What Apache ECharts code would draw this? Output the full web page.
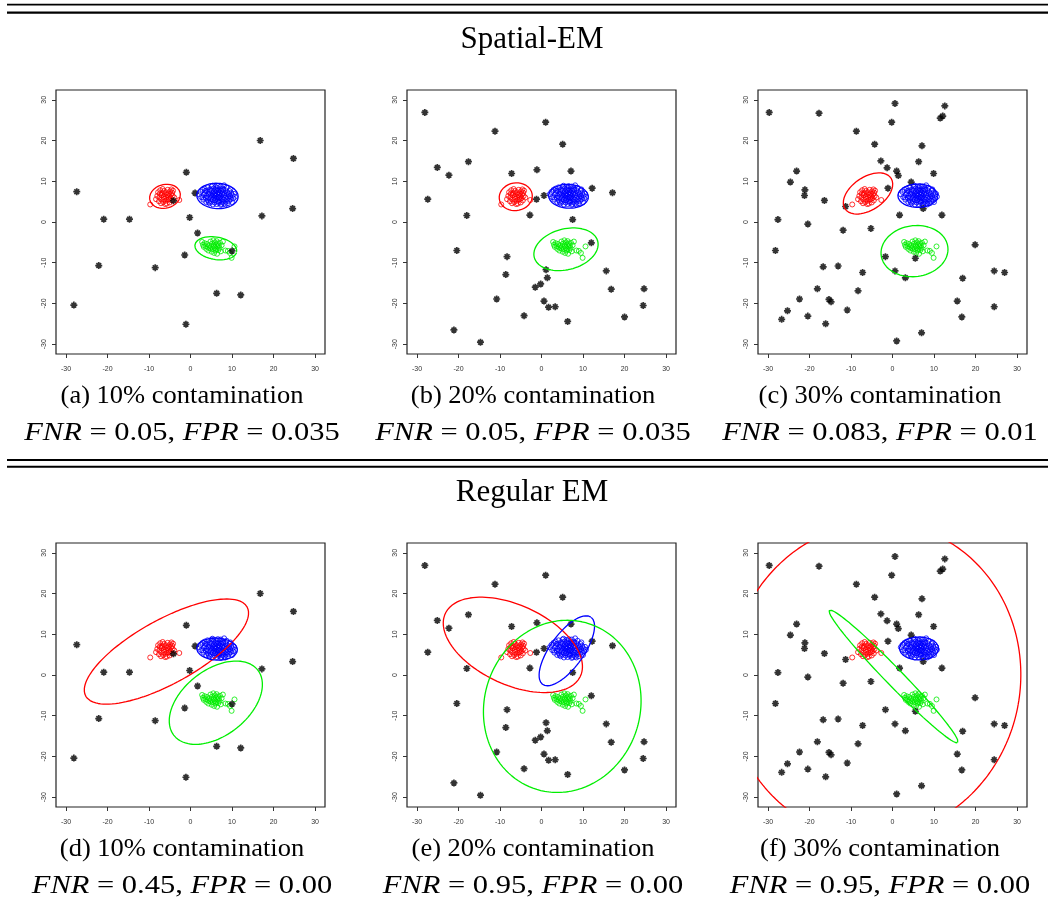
<!DOCTYPE html>
<html>
<head>
<meta charset="utf-8">
<script src="https://cdn.jsdelivr.net/npm/echarts@6/dist/echarts.min.js"></script>
<style>
html,body{margin:0;padding:0;background:#fff;}
#chart{width:1048px;height:903px;}
</style>
</head>
<body>
<div id="chart"></div>
<script>
// ---------------- DATA ----------------
const tickValues = [-30, -20, -10, 0, 10, 20, 30];
const sectionTitles = ['Spatial-EM', 'Regular EM'];
const captions = ['(a) 10% contamination', '(b) 20% contamination', '(c) 30% contamination',
                  '(d) 10% contamination', '(e) 20% contamination', '(f) 30% contamination'];
const fnrValues = ['0.05', '0.05', '0.083', '0.45', '0.95', '0.95'];
const fprValues = ['0.035', '0.035', '0.01', '0.00', '0.00', '0.00'];

// inlier clusters (same in every panel)
const redCluster = [[-9.7,4.3],[-8.3,5.6],[-8.0,6.4],[-7.8,7.3],[-7.6,5.1],[-7.5,6.0],[-7.3,7.8],[-7.1,4.6],[-7.0,6.6],[-6.9,5.5],[-6.8,7.1],[-6.6,4.9],[-6.5,6.2],[-6.4,7.6],[-6.3,5.7],[-6.2,6.8],[-6.0,5.2],[-5.9,7.3],[-5.8,6.0],[-5.7,4.5],[-5.6,6.6],[-5.5,7.9],[-5.4,5.5],[-5.3,7.0],[-5.1,6.3],[-5.0,4.8],[-4.9,7.5],[-4.8,5.9],[-4.7,6.8],[-4.6,8.0],[-4.5,5.3],[-4.4,7.2],[-4.3,6.4],[-4.2,7.7],[-6.7,8.1],[-7.4,6.9],[-6.1,4.4],[-5.2,5.6],[-3.9,6.0],[-2.7,5.4]];
const blueCluster = [[2.0,6.8],[2.4,7.4],[2.6,6.1],[2.9,7.9],[3.1,5.5],[3.2,6.7],[3.4,8.2],[3.5,7.1],[3.7,5.9],[3.8,4.9],[3.9,6.4],[4.0,7.7],[4.1,8.5],[4.2,5.3],[4.3,6.9],[4.4,6.0],[4.5,7.3],[4.6,4.6],[4.7,8.0],[4.8,5.7],[4.9,6.6],[5.0,7.6],[5.0,5.0],[5.1,8.7],[5.2,6.2],[5.3,7.0],[5.4,4.3],[5.4,5.5],[5.5,8.2],[5.6,6.8],[5.7,7.5],[5.7,6.0],[5.8,4.8],[5.9,5.3],[6.0,8.6],[6.0,7.1],[6.1,6.4],[6.2,5.7],[6.2,7.9],[6.3,4.4],[6.4,6.9],[6.5,5.1],[6.5,8.3],[6.6,6.1],[6.7,7.4],[6.8,4.7],[6.8,5.8],[6.9,6.7],[7.0,8.0],[7.0,7.2],[7.1,5.4],[7.2,6.3],[7.3,4.2],[7.3,8.7],[7.4,7.7],[7.5,5.9],[7.6,6.8],[7.7,4.9],[7.7,7.3],[7.8,8.2],[7.9,5.5],[8.0,6.5],[8.1,9.0],[8.1,4.5],[8.2,7.0],[8.3,5.9],[8.4,7.8],[8.5,5.0],[8.6,6.4],[8.7,8.4],[8.8,5.6],[8.9,7.3],[9.0,4.6],[9.1,6.0],[9.2,6.8],[9.3,5.2],[9.4,7.6],[9.5,6.3],[9.7,5.6],[9.8,7.1],[10.0,4.9],[10.1,6.5],[10.3,5.8],[10.5,6.9],[10.7,6.2],[3.0,6.0],[3.6,7.6],[4.4,4.9],[5.3,8.9],[6.6,8.8],[7.5,4.4],[8.4,4.3],[9.6,8.0],[5.8,6.5],[6.4,7.7],[7.0,6.0],[7.9,7.9],[6.9,5.0]];
const greenCluster = [[2.8,-4.9],[3.0,-5.6],[3.2,-6.1],[3.4,-5.2],[3.6,-5.9],[3.8,-6.6],[4.0,-5.4],[4.2,-6.2],[4.3,-7.0],[4.5,-5.7],[4.7,-6.5],[4.8,-4.8],[5.0,-6.0],[5.1,-7.3],[5.2,-5.3],[5.4,-6.7],[5.5,-4.5],[5.6,-5.9],[5.7,-7.6],[5.8,-6.3],[5.9,-5.0],[6.0,-7.0],[6.1,-5.6],[6.2,-6.5],[6.3,-4.7],[6.4,-7.8],[6.5,-6.0],[6.6,-5.3],[6.7,-6.9],[6.8,-5.8],[7.0,-6.4],[7.1,-5.1],[7.3,-7.2],[7.5,-5.7],[7.8,-4.8],[8.4,-7.0],[9.0,-7.1],[9.5,-7.6],[9.9,-8.8],[10.6,-6.0]];

// outliers for 10%, 20%, 30% contamination
const outliers10 = [[-27.4,7.45],[-20.9,0.7],[-14.7,0.7],[-22.1,-10.7],[-28.1,-20.4],[-8.5,-11.2],[-1.0,12.2],[1.1,7.1],[-4.1,5.2],[-0.2,1.1],[1.7,-2.7],[-1.4,-8.1],[-1.1,-25.1],[6.3,-17.5],[12.1,-17.9],[10.0,-7.1],[16.8,20.0],[24.8,15.6],[17.2,1.5],[24.6,3.3]];
const outliers20 = [[-28.1,26.9],[-27.4,5.6],[-25.1,13.4],[-22.3,11.5],[-17.6,14.8],[-18.0,1.6],[-20.4,-7.0],[-21.1,-26.5],[-14.7,-29.5],[-11.2,22.3],[-10.8,-18.9],[-7.2,11.9],[-8.3,-8.5],[-8.6,-12.9],[-4.2,-23.0],[-1.1,12.8],[-1.2,5.6],[-2.8,1.7],[1.0,24.5],[0.6,6.5],[1.1,-11.7],[1.4,-13.7],[-1.5,-16.0],[-0.2,-15.2],[0.6,-19.4],[1.7,-20.9],[3.3,-20.8],[6.3,-24.4],[5.1,19.1],[7.1,12.5],[7.5,0.6],[12.2,8.3],[12.0,-5.1],[17.1,7.2],[15.6,-12.0],[16.8,-16.5],[20.0,-23.3],[24.7,-16.4],[24.5,-20.5]];
const outliers30 = [[-29.7,26.9],[-17.7,26.7],[-8.7,22.3],[-4.3,19.1],[0.6,29.1],[-0.2,24.5],[11.5,25.5],[12.1,26.0],[12.6,28.5],[7.1,18.7],[6.3,14.8],[9.9,11.9],[-2.8,15.0],[-1.3,13.3],[1.0,12.5],[1.4,11.4],[4.5,9.8],[-1.1,8.3],[-23.1,12.5],[-24.6,9.8],[-21.1,7.9],[-21.2,6.5],[-16.4,5.3],[-27.6,0.6],[-20.4,-0.5],[-11.3,3.8],[-11.9,-2.0],[-5.2,-1.6],[1.7,1.7],[7.4,3.3],[11.9,1.7],[-28.2,-7.0],[-16.7,-11.0],[-13.1,-10.8],[-7.2,-12.4],[-1.7,-8.5],[0.6,-12.0],[5.5,-8.9],[3.1,-13.7],[-18.1,-16.4],[-8.3,-16.9],[-22.4,-18.9],[-15.3,-19.0],[-14.8,-19.6],[-25.3,-21.8],[-20.4,-23.1],[-26.7,-23.9],[-16.1,-25.0],[-10.9,-21.6],[1.0,-29.2],[7.0,-27.2],[19.9,-5.6],[16.9,-13.8],[15.6,-19.4],[16.7,-23.3],[24.5,-12.0],[27.0,-12.4],[24.5,-20.8]];
const panelOutliers = [outliers10, outliers20, outliers30, outliers10, outliers20, outliers30];

// fitted ellipses per panel: [centerX, centerY, semiAxisA, semiAxisB, angleDeg]
const redEllipses   = [[-6.15,6.3,3.75,2.9,15],[-6.2,6.2,4.0,3.4,10],[-5.9,7.0,6.7,4.0,35],[-5.8,5.75,22.3,7.8,29.5],[-6.9,7.4,18.0,9.7,-25.6],[-4.3,-1.2,35.1,38.7,-10]];
const blueEllipses  = [[6.5,6.4,5.0,3.1,-3],[6.5,6.3,4.8,2.9,-3],[6.1,6.45,4.8,2.85,0],[6.4,6.35,4.9,2.7,-3],[6.1,5.95,10.1,4.05,55],[6.4,6.5,4.7,2.8,0]];
const greenEllipses = [[6.1,-6.45,5.1,2.75,-10],[5.9,-6.7,7.9,5.0,15],[5.3,-7.15,8.1,6.25,8],[6.1,-6.8,12.9,8.0,39],[5.0,-7.7,21.3,18.8,74.6],[0.25,-0.35,22.4,2.1,-46.4]];

// ---------------- LAYOUT ----------------
const gridLefts = [56, 407, 758];
const gridTops = [90, 543];
const gridW = 269, gridH = 264;
const AX_MIN = -32.4, AX_MAX = 32.4;

function ellipseOutline(p) {
  const [cx, cy, a, b, deg] = p;
  const th = deg * Math.PI / 180;
  const pts = [];
  for (let k = 0; k <= 240; k++) {
    const t = 2 * Math.PI * k / 240;
    const x = cx + a * Math.cos(t) * Math.cos(th) - b * Math.sin(t) * Math.sin(th);
    const y = cy + a * Math.cos(t) * Math.sin(th) + b * Math.sin(t) * Math.cos(th);
    pts.push([x, y]);
  }
  return pts;
}

const asterisk = 'path://M5,0L5,10M0,5L10,5M1.6,1.6L8.4,8.4M1.6,8.4L8.4,1.6';

const grids = [], xAxes = [], yAxes = [], series = [];
for (let i = 0; i < 6; i++) {
  const row = Math.floor(i / 3), col = i % 3;
  grids.push({ left: gridLefts[col], top: gridTops[row], width: gridW, height: gridH,
    show: true, borderColor: '#222', borderWidth: 1.2, backgroundColor: 'transparent' });
  const common = {
    type: 'value', gridIndex: i, min: AX_MIN, max: AX_MAX,
    axisLine: { show: false, onZero: false }, splitLine: { show: false },
    axisTick: { show: true, inside: false, length: 4, customValues: tickValues, lineStyle: { color: '#333', width: 1 } },
  };
  xAxes.push(Object.assign({}, common, { position: 'bottom',
    axisLabel: { customValues: tickValues, fontSize: 7, color: '#333', margin: 12, fontFamily: 'Liberation Sans' }
  }));
  yAxes.push(Object.assign({}, common, { position: 'left',
    axisLabel: { customValues: tickValues, fontSize: 7, color: '#333', margin: 8, rotate: 90, fontFamily: 'Liberation Sans' }
  }));
  const circ = (data, color) => ({
    type: 'scatter', xAxisIndex: i, yAxisIndex: i, data, symbol: 'circle', symbolSize: 5,
    itemStyle: { color: 'rgba(0,0,0,0)', borderColor: color, borderWidth: 1 }, silent: true, z: 3
  });
  series.push(circ(redCluster, '#ff0000'));
  series.push(circ(blueCluster, '#0000ff'));
  series.push(circ(greenCluster, '#00ee00'));
  series.push({
    type: 'scatter', xAxisIndex: i, yAxisIndex: i, data: panelOutliers[i], symbol: asterisk, symbolSize: 7,
    itemStyle: { color: '#000', borderColor: '#000', borderWidth: 1.7 }, silent: true, z: 4
  });
  const ell = (p, color) => ({
    type: 'line', xAxisIndex: i, yAxisIndex: i, data: ellipseOutline(p), showSymbol: false, symbol: 'none',
    clip: true, lineStyle: { color, width: 1.3 }, silent: true, z: 5, animation: false
  });
  series.push(ell(redEllipses[i], '#ff0000'));
  series.push(ell(blueEllipses[i], '#0000ff'));
  series.push(ell(greenEllipses[i], '#00ee00'));
}

// ---------------- TEXT & RULES ----------------
const graphic = [];
const rule = (y, w) => ({ type: 'line', shape: { x1: 7, y1: y, x2: 1048, y2: y }, style: { stroke: '#000', lineWidth: w } });
graphic.push(rule(4.7, 1.8), rule(12.7, 2.3), rule(460, 2), rule(466.7, 2));
const serif = 'Liberation Serif';
graphic.push({ type: 'text', x: 532, y: 40, style: { text: sectionTitles[0], fontSize: 31, fontFamily: serif, fill: '#000', textAlign: 'center', textVerticalAlign: 'middle' } });
graphic.push({ type: 'text', x: 532, y: 493, style: { text: sectionTitles[1], fontSize: 31, fontFamily: serif, fill: '#000', textAlign: 'center', textVerticalAlign: 'middle' } });
const capCenters = [182, 533, 880];
const capY = [396.5, 849.5], rateY = [433.5, 886];
for (let i = 0; i < 6; i++) {
  const row = Math.floor(i / 3), col = i % 3;
  graphic.push({ type: 'text', x: capCenters[col], y: capY[row], scaleX: 1.06,
    style: { text: captions[i], fontSize: 25, fontFamily: serif, fill: '#000', textAlign: 'center', textVerticalAlign: 'middle' } });
  graphic.push({ type: 'text', x: capCenters[col], y: rateY[row], scaleX: 1.22,
    style: { text: '{i|FNR} = ' + fnrValues[i] + ', {i|FPR} = ' + fprValues[i], fontSize: 25, fontFamily: serif, fill: '#000',
      textAlign: 'center', textVerticalAlign: 'middle',
      rich: { i: { fontStyle: 'italic', fontSize: 25, fontFamily: serif, fill: '#000' } } } });
}

const chart = echarts.init(document.getElementById('chart'), null, { renderer: 'canvas' });
chart.setOption({
  animation: false,
  backgroundColor: '#fff',
  grid: grids, xAxis: xAxes, yAxis: yAxes, series, graphic
});
</script>
</body>
</html>
